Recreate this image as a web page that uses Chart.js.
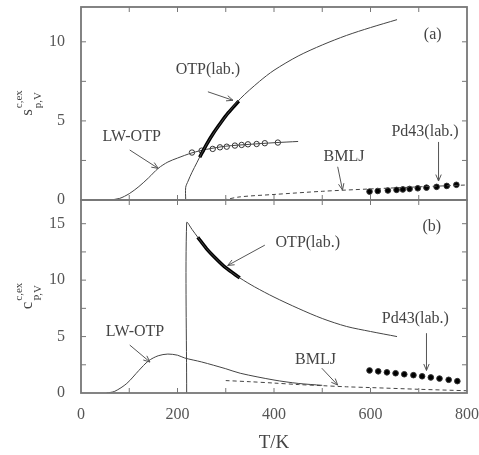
<!DOCTYPE html>
<html>
<head>
<meta charset="utf-8">
<script src="https://cdn.jsdelivr.net/npm/chart.js@4.4.1/dist/chart.umd.min.js"></script>
<style>
  body { margin: 0; background: #fff; font-family: 'Liberation Serif', serif; }
  #wrap { position: relative; width: 479px; height: 455px; }
  .box { position: absolute; left: 0; width: 479px; }
  #boxTop { top: 0; height: 205px; }
  #boxBot { top: 195px; height: 260px; }
</style>
</head>
<body>
<div id="wrap">
  <div class="box" id="boxTop"><canvas id="top"></canvas></div>
  <div class="box" id="boxBot"><canvas id="bot"></canvas></div>
</div>
<script>
// panel (a): entropy
const lwA_T = [60, 80, 100, 120, 140, 160, 180, 200, 230, 260, 300, 350, 400, 450];
const lwA_S = [0, 0.1, 0.4, 0.85, 1.4, 2.0, 2.4, 2.65, 2.98, 3.2, 3.4, 3.52, 3.62, 3.7];
const circA_T = [230, 250, 273, 288, 302, 319, 333, 346, 364, 381, 408];
const circA_S = [3.0, 3.12, 3.23, 3.33, 3.37, 3.44, 3.48, 3.52, 3.54, 3.59, 3.63];
const otpA_T = [217, 217, 222, 230, 240, 250, 270, 300, 330, 370, 400, 450, 500, 550, 600, 655];
const otpA_S = [0, 0.8, 1.2, 1.75, 2.35, 2.95, 4.0, 5.3, 6.4, 7.5, 8.2, 9.1, 9.8, 10.4, 10.9, 11.4];
const labA_T = [246, 260, 275, 290, 305, 327];
const labA_S = [2.7, 3.5, 4.25, 4.9, 5.5, 6.25];
const bmljA_T = [295, 330, 400, 500, 600, 700, 800];
const bmljA_S = [0, 0.2, 0.35, 0.55, 0.7, 0.83, 0.95];
const pdA_T = [598, 615, 636, 654, 667, 681, 698, 716, 737, 758, 778];
const pdA_S = [0.53, 0.57, 0.6, 0.64, 0.67, 0.7, 0.74, 0.78, 0.83, 0.89, 0.96];

// panel (b): heat capacity
const lwB_T = [53, 70, 95, 120, 140, 160, 180, 200, 215, 250, 300, 330, 400, 450, 500];
const lwB_C = [0, 0.15, 0.85, 2.0, 2.85, 3.3, 3.45, 3.35, 3.1, 2.75, 2.15, 1.75, 1.15, 0.85, 0.68];
const otpB_T = [219, 219, 230, 242, 260, 280, 300, 329, 360, 400, 450, 500, 550, 600, 655];
const otpB_C = [0, 15.1, 14.5, 13.8, 12.8, 11.9, 11.1, 10.2, 9.4, 8.5, 7.5, 6.6, 5.9, 5.45, 5.0];
const labB_T = [242, 260, 280, 300, 329];
const labB_C = [13.8, 12.8, 11.9, 11.1, 10.2];
const bmljB_T = [300, 350, 400, 450, 500, 550, 600, 700, 800];
const bmljB_C = [1.1, 1.0, 0.88, 0.75, 0.65, 0.55, 0.48, 0.33, 0.2];
const pdB_T = [598, 616, 634, 652, 670, 689, 707, 725, 743, 762, 780];
const pdB_C = [2.0, 1.92, 1.83, 1.75, 1.66, 1.58, 1.48, 1.38, 1.28, 1.17, 1.05];

const xTicks = [0, 200, 400, 600, 800];

const serif = 'Liberation Serif';

function pts(xs, ys) {
    return xs.map((v, i) => ({ x: v, y: ys[i] }));
}

function line(xs, ys, width, color, dash) {
    return {
        data: pts(xs, ys), showLine: true, pointRadius: 0,
        borderColor: color, borderWidth: width, borderDash: dash || [],
        tension: 0.3
    };
}

function marks(xs, ys, fill, r) {
    return {
        data: pts(xs, ys), showLine: false, pointRadius: r,
        backgroundColor: fill, borderColor: '#333', borderWidth: 1
    };
}

function noPad(s) {
    s.paddingTop = 0; s.paddingBottom = 0; s.paddingLeft = 0; s.paddingRight = 0;
}

// frame, inward ticks, y title with scripts, text notes with arrows
const decor = {
    id: 'decor',
    afterDatasetsDraw(chart, args, o) {
        const { ctx, chartArea: a, scales: { x, y } } = chart;
        ctx.save();
        ctx.strokeStyle = '#777';
        ctx.lineWidth = 1;
        const seg = (x1, y1, x2, y2) => { ctx.beginPath(); ctx.moveTo(x1, y1); ctx.lineTo(x2, y2); ctx.stroke(); };
        for (let v = 100; v < 800; v += 100) {
            const px = x.getPixelForValue(v);
            seg(px, a.top, px, a.top + 5);
            seg(px, a.bottom, px, a.bottom - 5);
        }
        for (let v = 2.5; v < y.max; v += 2.5) {
            const py = y.getPixelForValue(v);
            seg(a.left, py, a.left + 5, py);
            seg(a.right, py, a.right - 5, py);
        }
        ctx.lineWidth = 1.8;
        ctx.strokeRect(a.left, a.top, a.right - a.left, a.bottom - a.top);

        // notes
        ctx.fillStyle = '#444';
        ctx.strokeStyle = '#555';
        ctx.lineWidth = 1;
        ctx.font = '16px ' + serif;
        ctx.textAlign = 'center';
        ctx.textBaseline = 'middle';
        o.notes.forEach(n => {
            ctx.fillText(n.text, x.getPixelForValue(n.x), y.getPixelForValue(n.y));
            if (!n.from) return;
            const x1 = x.getPixelForValue(n.from[0]), y1 = y.getPixelForValue(n.from[1]);
            const x2 = x.getPixelForValue(n.to[0]), y2 = y.getPixelForValue(n.to[1]);
            seg(x1, y1, x2, y2);
            const ang = Math.atan2(y2 - y1, x2 - x1);
            seg(x2, y2, x2 - 7 * Math.cos(ang - 0.4), y2 - 7 * Math.sin(ang - 0.4));
            seg(x2, y2, x2 - 7 * Math.cos(ang + 0.4), y2 - 7 * Math.sin(ang + 0.4));
        });

        // y title
        const t = o.title;
        ctx.translate(32, (a.top + a.bottom) / 2);
        ctx.rotate(-Math.PI / 2);
        ctx.textAlign = 'left';
        ctx.textBaseline = 'alphabetic';
        ctx.font = '17px ' + serif;
        const wm = ctx.measureText(t.main).width;
        ctx.font = '11px ' + serif;
        const ws = Math.max(ctx.measureText(t.sup).width, ctx.measureText(t.sub).width);
        const x0 = -(wm + ws) / 2;
        ctx.font = '17px ' + serif;
        ctx.fillText(t.main, x0, 0);
        ctx.font = '11px ' + serif;
        ctx.fillText(t.sup, x0 + wm + 1, -10);
        ctx.fillText(t.sub, x0 + wm + 1, 9);
        ctx.restore();
    }
};

function makeChart(id, datasets, yMax, pad, showX, notes, title) {
    return new Chart(document.getElementById(id), {
        type: 'scatter',
        data: { datasets },
        options: {
            responsive: true,
            maintainAspectRatio: false,
            animation: false,
            layout: { padding: pad },
            plugins: { legend: { display: false }, tooltip: { enabled: false }, decor: { notes, title } },
            scales: {
                x: {
                    type: 'linear', min: 0, max: 800, display: showX,
                    grid: { display: false }, border: { display: false },
                    afterBuildTicks: s => { s.ticks = xTicks.map(v => ({ value: v })); },
                    afterFit: s => { s.height = showX ? 62 : 0; noPad(s); },
                    ticks: { color: '#555', padding: 4, maxRotation: 0, font: { family: serif, size: 16 } },
                    title: { display: showX, text: 'T/K', color: '#444', padding: { top: 0, bottom: 1 }, font: { family: serif, size: 19 } }
                },
                y: {
                    type: 'linear', min: 0, max: yMax,
                    grid: { display: false }, border: { display: false },
                    afterFit: s => { s.width = 81; noPad(s); },
                    ticks: { stepSize: 5, includeBounds: false, color: '#555', padding: 8, font: { family: serif, size: 16 } }
                }
            }
        },
        plugins: [decor]
    });
}

makeChart('top', [
    line(otpA_T, otpA_S, 1, '#444'),
    line(labA_T, labA_S, 3.5, '#000'),
    line(lwA_T, lwA_S, 1, '#444'),
    marks(circA_T, circA_S, '#fff', 2.7),
    line(bmljA_T, bmljA_S, 1, '#444', [4, 3]),
    marks(pdA_T, pdA_S, '#000', 2.8)
], 12.2, { top: 7, right: 12, left: 0, bottom: 5 }, false, [
    { text: '(a)', x: 729, y: 10.45 },
    { text: 'OTP(lab.)', x: 263, y: 8.2, from: [263, 6.84], to: [315, 6.3] },
    { text: 'LW-OTP', x: 105, y: 4.0, from: [101, 3.16], to: [160, 2.0] },
    { text: 'BMLJ', x: 545, y: 2.72, from: [532, 2.1], to: [542, 0.63] },
    { text: 'Pd43(lab.)', x: 713, y: 4.3, from: [741, 3.67], to: [741, 1.2] }
], { main: 's', sup: 'c,ex', sub: 'p,V' });

makeChart('bot', [
    line(otpB_T, otpB_C, 1, '#444'),
    line(labB_T, labB_C, 3.5, '#000'),
    line(lwB_T, lwB_C, 1, '#444'),
    line(bmljB_T, bmljB_C, 1, '#444', [4, 3]),
    marks(pdB_T, pdB_C, '#000', 2.8)
], 17.1, { top: 5, right: 12, left: 0, bottom: 0 }, true, [
    { text: '(b)', x: 727, y: 14.7 },
    { text: 'OTP(lab.)', x: 470, y: 13.3, from: [381, 13.1], to: [304, 11.3] },
    { text: 'LW-OTP', x: 112, y: 5.4, from: [101, 4.25], to: [143, 2.74] },
    { text: 'BMLJ', x: 486, y: 2.9, from: [499, 2.2], to: [532, 0.7] },
    { text: 'Pd43(lab.)', x: 693, y: 6.6, from: [716, 5.3], to: [716, 2.0] }
], { main: 'c', sup: 'c,ex', sub: 'P,V' });
</script>
</body>
</html>
